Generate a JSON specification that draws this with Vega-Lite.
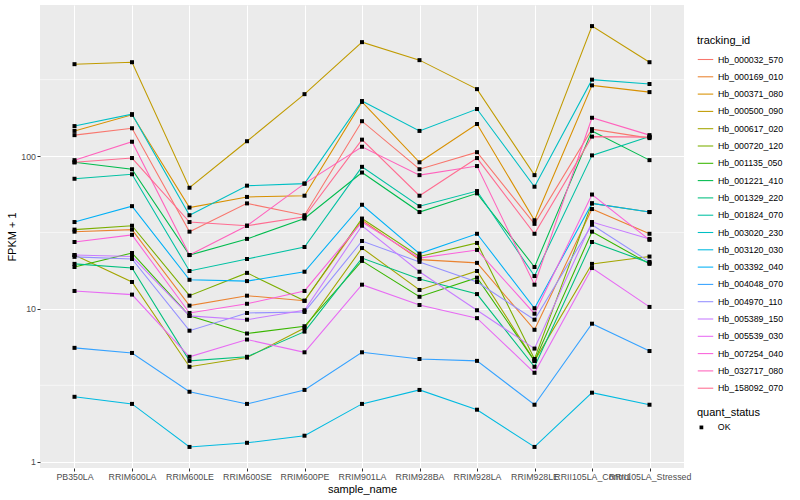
{
"$schema": "https://vega.github.io/schema/vega-lite/v6.json",
"width": 644,
"height": 463,
"autosize": {"type": "none"},
"padding": {"left": 40, "top": 5, "right": 116, "bottom": 32},
"background": "white",
"config": {
  "view": {"fill": "#EBEBEB", "stroke": null},
  "font": "Liberation Sans",
  "axis": {"gridColor": "white", "gridWidth": 1.07, "domain": false, "tickColor": "#333333", "tickSize": 3, "labelColor": "#4D4D4D", "labelFontSize": 8.8, "titleFontSize": 11, "titleFontWeight": "normal", "titleColor": "black", "labelFont": "Liberation Sans", "titleFont": "Liberation Sans"},
  "legend": {"titleFontSize": 11, "titleFontWeight": "normal", "titleColor": "black", "labelFontSize": 8.8, "labelColor": "black", "titleFont": "Liberation Sans", "labelFont": "Liberation Sans", "titlePadding": 5}
},
"datasets": {
  "minor": [{"fpkm": 3.1623}, {"fpkm": 31.623}, {"fpkm": 316.23}],
  "d": [
{"sample":"PB350LA","id":"Hb_000032_570","fpkm":137,"status":"OK"},
{"sample":"RRIM600LA","id":"Hb_000032_570","fpkm":152,"status":"OK"},
{"sample":"RRIM600LE","id":"Hb_000032_570","fpkm":32,"status":"OK"},
{"sample":"RRIM600SE","id":"Hb_000032_570","fpkm":49,"status":"OK"},
{"sample":"RRIM600PE","id":"Hb_000032_570","fpkm":41,"status":"OK"},
{"sample":"RRIM901LA","id":"Hb_000032_570","fpkm":169,"status":"OK"},
{"sample":"RRIM928BA","id":"Hb_000032_570","fpkm":82,"status":"OK"},
{"sample":"RRIM928LA","id":"Hb_000032_570","fpkm":106,"status":"OK"},
{"sample":"RRIM928LE","id":"Hb_000032_570","fpkm":36,"status":"OK"},
{"sample":"RRII105LA_Control","id":"Hb_000032_570","fpkm":150,"status":"OK"},
{"sample":"RRII105LA_Stressed","id":"Hb_000032_570","fpkm":131,"status":"OK"},
{"sample":"PB350LA","id":"Hb_000169_010","fpkm":32,"status":"OK"},
{"sample":"RRIM600LA","id":"Hb_000169_010","fpkm":33,"status":"OK"},
{"sample":"RRIM600LE","id":"Hb_000169_010","fpkm":10.5,"status":"OK"},
{"sample":"RRIM600SE","id":"Hb_000169_010","fpkm":12.2,"status":"OK"},
{"sample":"RRIM600PE","id":"Hb_000169_010","fpkm":11.3,"status":"OK"},
{"sample":"RRIM901LA","id":"Hb_000169_010","fpkm":38,"status":"OK"},
{"sample":"RRIM928BA","id":"Hb_000169_010","fpkm":21,"status":"OK"},
{"sample":"RRIM928LA","id":"Hb_000169_010","fpkm":20,"status":"OK"},
{"sample":"RRIM928LE","id":"Hb_000169_010","fpkm":7.3,"status":"OK"},
{"sample":"RRII105LA_Control","id":"Hb_000169_010","fpkm":45,"status":"OK"},
{"sample":"RRII105LA_Stressed","id":"Hb_000169_010","fpkm":31,"status":"OK"},
{"sample":"PB350LA","id":"Hb_000371_080","fpkm":146,"status":"OK"},
{"sample":"RRIM600LA","id":"Hb_000371_080","fpkm":186,"status":"OK"},
{"sample":"RRIM600LE","id":"Hb_000371_080","fpkm":46,"status":"OK"},
{"sample":"RRIM600SE","id":"Hb_000371_080","fpkm":54,"status":"OK"},
{"sample":"RRIM600PE","id":"Hb_000371_080","fpkm":55,"status":"OK"},
{"sample":"RRIM901LA","id":"Hb_000371_080","fpkm":226,"status":"OK"},
{"sample":"RRIM928BA","id":"Hb_000371_080","fpkm":91,"status":"OK"},
{"sample":"RRIM928LA","id":"Hb_000371_080","fpkm":162,"status":"OK"},
{"sample":"RRIM928LE","id":"Hb_000371_080","fpkm":38,"status":"OK"},
{"sample":"RRII105LA_Control","id":"Hb_000371_080","fpkm":290,"status":"OK"},
{"sample":"RRII105LA_Stressed","id":"Hb_000371_080","fpkm":262,"status":"OK"},
{"sample":"PB350LA","id":"Hb_000500_090","fpkm":399,"status":"OK"},
{"sample":"RRIM600LA","id":"Hb_000500_090","fpkm":411,"status":"OK"},
{"sample":"RRIM600LE","id":"Hb_000500_090","fpkm":62,"status":"OK"},
{"sample":"RRIM600SE","id":"Hb_000500_090","fpkm":125,"status":"OK"},
{"sample":"RRIM600PE","id":"Hb_000500_090","fpkm":254,"status":"OK"},
{"sample":"RRIM901LA","id":"Hb_000500_090","fpkm":556,"status":"OK"},
{"sample":"RRIM928BA","id":"Hb_000500_090","fpkm":424,"status":"OK"},
{"sample":"RRIM928LA","id":"Hb_000500_090","fpkm":274,"status":"OK"},
{"sample":"RRIM928LE","id":"Hb_000500_090","fpkm":75,"status":"OK"},
{"sample":"RRII105LA_Control","id":"Hb_000500_090","fpkm":708,"status":"OK"},
{"sample":"RRII105LA_Stressed","id":"Hb_000500_090","fpkm":411,"status":"OK"},
{"sample":"PB350LA","id":"Hb_000617_020","fpkm":22.5,"status":"OK"},
{"sample":"RRIM600LA","id":"Hb_000617_020","fpkm":15,"status":"OK"},
{"sample":"RRIM600LE","id":"Hb_000617_020","fpkm":4.18,"status":"OK"},
{"sample":"RRIM600SE","id":"Hb_000617_020","fpkm":4.8,"status":"OK"},
{"sample":"RRIM600PE","id":"Hb_000617_020","fpkm":7.5,"status":"OK"},
{"sample":"RRIM901LA","id":"Hb_000617_020","fpkm":25,"status":"OK"},
{"sample":"RRIM928BA","id":"Hb_000617_020","fpkm":13.3,"status":"OK"},
{"sample":"RRIM928LA","id":"Hb_000617_020","fpkm":17.7,"status":"OK"},
{"sample":"RRIM928LE","id":"Hb_000617_020","fpkm":4.57,"status":"OK"},
{"sample":"RRII105LA_Control","id":"Hb_000617_020","fpkm":19.7,"status":"OK"},
{"sample":"RRII105LA_Stressed","id":"Hb_000617_020","fpkm":22,"status":"OK"},
{"sample":"PB350LA","id":"Hb_000720_120","fpkm":33,"status":"OK"},
{"sample":"RRIM600LA","id":"Hb_000720_120","fpkm":35,"status":"OK"},
{"sample":"RRIM600LE","id":"Hb_000720_120","fpkm":12.2,"status":"OK"},
{"sample":"RRIM600SE","id":"Hb_000720_120","fpkm":17.2,"status":"OK"},
{"sample":"RRIM600PE","id":"Hb_000720_120","fpkm":11.3,"status":"OK"},
{"sample":"RRIM901LA","id":"Hb_000720_120","fpkm":39,"status":"OK"},
{"sample":"RRIM928BA","id":"Hb_000720_120","fpkm":22,"status":"OK"},
{"sample":"RRIM928LA","id":"Hb_000720_120","fpkm":27,"status":"OK"},
{"sample":"RRIM928LE","id":"Hb_000720_120","fpkm":4.7,"status":"OK"},
{"sample":"RRII105LA_Control","id":"Hb_000720_120","fpkm":49,"status":"OK"},
{"sample":"RRII105LA_Stressed","id":"Hb_000720_120","fpkm":43,"status":"OK"},
{"sample":"PB350LA","id":"Hb_001135_050","fpkm":18.8,"status":"OK"},
{"sample":"RRIM600LA","id":"Hb_001135_050","fpkm":23.2,"status":"OK"},
{"sample":"RRIM600LE","id":"Hb_001135_050","fpkm":9.0,"status":"OK"},
{"sample":"RRIM600SE","id":"Hb_001135_050","fpkm":6.9,"status":"OK"},
{"sample":"RRIM600PE","id":"Hb_001135_050","fpkm":7.7,"status":"OK"},
{"sample":"RRIM901LA","id":"Hb_001135_050","fpkm":20.6,"status":"OK"},
{"sample":"RRIM928BA","id":"Hb_001135_050","fpkm":12,"status":"OK"},
{"sample":"RRIM928LA","id":"Hb_001135_050","fpkm":16,"status":"OK"},
{"sample":"RRIM928LE","id":"Hb_001135_050","fpkm":4.57,"status":"OK"},
{"sample":"RRII105LA_Control","id":"Hb_001135_050","fpkm":32,"status":"OK"},
{"sample":"RRII105LA_Stressed","id":"Hb_001135_050","fpkm":19.7,"status":"OK"},
{"sample":"PB350LA","id":"Hb_001221_410","fpkm":91,"status":"OK"},
{"sample":"RRIM600LA","id":"Hb_001221_410","fpkm":82,"status":"OK"},
{"sample":"RRIM600LE","id":"Hb_001221_410","fpkm":22.5,"status":"OK"},
{"sample":"RRIM600SE","id":"Hb_001221_410","fpkm":28.7,"status":"OK"},
{"sample":"RRIM600PE","id":"Hb_001221_410","fpkm":39,"status":"OK"},
{"sample":"RRIM901LA","id":"Hb_001221_410","fpkm":78,"status":"OK"},
{"sample":"RRIM928BA","id":"Hb_001221_410","fpkm":43,"status":"OK"},
{"sample":"RRIM928LA","id":"Hb_001221_410","fpkm":57,"status":"OK"},
{"sample":"RRIM928LE","id":"Hb_001221_410","fpkm":18.8,"status":"OK"},
{"sample":"RRII105LA_Control","id":"Hb_001221_410","fpkm":146,"status":"OK"},
{"sample":"RRII105LA_Stressed","id":"Hb_001221_410","fpkm":94,"status":"OK"},
{"sample":"PB350LA","id":"Hb_001329_220","fpkm":19.7,"status":"OK"},
{"sample":"RRIM600LA","id":"Hb_001329_220","fpkm":18.5,"status":"OK"},
{"sample":"RRIM600LE","id":"Hb_001329_220","fpkm":4.57,"status":"OK"},
{"sample":"RRIM600SE","id":"Hb_001329_220","fpkm":4.86,"status":"OK"},
{"sample":"RRIM600PE","id":"Hb_001329_220","fpkm":7.1,"status":"OK"},
{"sample":"RRIM901LA","id":"Hb_001329_220","fpkm":21.5,"status":"OK"},
{"sample":"RRIM928BA","id":"Hb_001329_220","fpkm":15.7,"status":"OK"},
{"sample":"RRIM928LA","id":"Hb_001329_220","fpkm":12.5,"status":"OK"},
{"sample":"RRIM928LE","id":"Hb_001329_220","fpkm":4.18,"status":"OK"},
{"sample":"RRII105LA_Control","id":"Hb_001329_220","fpkm":27.4,"status":"OK"},
{"sample":"RRII105LA_Stressed","id":"Hb_001329_220","fpkm":20,"status":"OK"},
{"sample":"PB350LA","id":"Hb_001824_070","fpkm":71,"status":"OK"},
{"sample":"RRIM600LA","id":"Hb_001824_070","fpkm":76,"status":"OK"},
{"sample":"RRIM600LE","id":"Hb_001824_070","fpkm":17.7,"status":"OK"},
{"sample":"RRIM600SE","id":"Hb_001824_070","fpkm":21.2,"status":"OK"},
{"sample":"RRIM600PE","id":"Hb_001824_070","fpkm":25.4,"status":"OK"},
{"sample":"RRIM901LA","id":"Hb_001824_070","fpkm":85,"status":"OK"},
{"sample":"RRIM928BA","id":"Hb_001824_070","fpkm":47,"status":"OK"},
{"sample":"RRIM928LA","id":"Hb_001824_070","fpkm":59,"status":"OK"},
{"sample":"RRIM928LE","id":"Hb_001824_070","fpkm":16.4,"status":"OK"},
{"sample":"RRII105LA_Control","id":"Hb_001824_070","fpkm":101,"status":"OK"},
{"sample":"RRII105LA_Stressed","id":"Hb_001824_070","fpkm":134,"status":"OK"},
{"sample":"PB350LA","id":"Hb_003020_230","fpkm":157,"status":"OK"},
{"sample":"RRIM600LA","id":"Hb_003020_230","fpkm":188,"status":"OK"},
{"sample":"RRIM600LE","id":"Hb_003020_230","fpkm":41,"status":"OK"},
{"sample":"RRIM600SE","id":"Hb_003020_230","fpkm":64,"status":"OK"},
{"sample":"RRIM600PE","id":"Hb_003020_230","fpkm":66,"status":"OK"},
{"sample":"RRIM901LA","id":"Hb_003020_230","fpkm":229,"status":"OK"},
{"sample":"RRIM928BA","id":"Hb_003020_230","fpkm":146,"status":"OK"},
{"sample":"RRIM928LA","id":"Hb_003020_230","fpkm":203,"status":"OK"},
{"sample":"RRIM928LE","id":"Hb_003020_230","fpkm":63,"status":"OK"},
{"sample":"RRII105LA_Control","id":"Hb_003020_230","fpkm":316,"status":"OK"},
{"sample":"RRII105LA_Stressed","id":"Hb_003020_230","fpkm":296,"status":"OK"},
{"sample":"PB350LA","id":"Hb_003120_030","fpkm":2.66,"status":"OK"},
{"sample":"RRIM600LA","id":"Hb_003120_030","fpkm":2.39,"status":"OK"},
{"sample":"RRIM600LE","id":"Hb_003120_030","fpkm":1.25,"status":"OK"},
{"sample":"RRIM600SE","id":"Hb_003120_030","fpkm":1.33,"status":"OK"},
{"sample":"RRIM600PE","id":"Hb_003120_030","fpkm":1.48,"status":"OK"},
{"sample":"RRIM901LA","id":"Hb_003120_030","fpkm":2.39,"status":"OK"},
{"sample":"RRIM928BA","id":"Hb_003120_030","fpkm":2.95,"status":"OK"},
{"sample":"RRIM928LA","id":"Hb_003120_030","fpkm":2.19,"status":"OK"},
{"sample":"RRIM928LE","id":"Hb_003120_030","fpkm":1.25,"status":"OK"},
{"sample":"RRII105LA_Control","id":"Hb_003120_030","fpkm":2.83,"status":"OK"},
{"sample":"RRII105LA_Stressed","id":"Hb_003120_030","fpkm":2.36,"status":"OK"},
{"sample":"PB350LA","id":"Hb_003392_040","fpkm":37,"status":"OK"},
{"sample":"RRIM600LA","id":"Hb_003392_040","fpkm":47,"status":"OK"},
{"sample":"RRIM600LE","id":"Hb_003392_040","fpkm":15.5,"status":"OK"},
{"sample":"RRIM600SE","id":"Hb_003392_040","fpkm":15.2,"status":"OK"},
{"sample":"RRIM600PE","id":"Hb_003392_040","fpkm":17.5,"status":"OK"},
{"sample":"RRIM901LA","id":"Hb_003392_040","fpkm":48,"status":"OK"},
{"sample":"RRIM928BA","id":"Hb_003392_040","fpkm":23,"status":"OK"},
{"sample":"RRIM928LA","id":"Hb_003392_040","fpkm":31,"status":"OK"},
{"sample":"RRIM928LE","id":"Hb_003392_040","fpkm":10.1,"status":"OK"},
{"sample":"RRII105LA_Control","id":"Hb_003392_040","fpkm":49,"status":"OK"},
{"sample":"RRII105LA_Stressed","id":"Hb_003392_040","fpkm":43,"status":"OK"},
{"sample":"PB350LA","id":"Hb_004048_070","fpkm":5.56,"status":"OK"},
{"sample":"RRIM600LA","id":"Hb_004048_070","fpkm":5.15,"status":"OK"},
{"sample":"RRIM600LE","id":"Hb_004048_070","fpkm":2.87,"status":"OK"},
{"sample":"RRIM600SE","id":"Hb_004048_070","fpkm":2.39,"status":"OK"},
{"sample":"RRIM600PE","id":"Hb_004048_070","fpkm":2.95,"status":"OK"},
{"sample":"RRIM901LA","id":"Hb_004048_070","fpkm":5.2,"status":"OK"},
{"sample":"RRIM928BA","id":"Hb_004048_070","fpkm":4.7,"status":"OK"},
{"sample":"RRIM928LA","id":"Hb_004048_070","fpkm":4.57,"status":"OK"},
{"sample":"RRIM928LE","id":"Hb_004048_070","fpkm":2.36,"status":"OK"},
{"sample":"RRII105LA_Control","id":"Hb_004048_070","fpkm":8.0,"status":"OK"},
{"sample":"RRII105LA_Stressed","id":"Hb_004048_070","fpkm":5.3,"status":"OK"},
{"sample":"PB350LA","id":"Hb_004970_110","fpkm":21.9,"status":"OK"},
{"sample":"RRIM600LA","id":"Hb_004970_110","fpkm":21.2,"status":"OK"},
{"sample":"RRIM600LE","id":"Hb_004970_110","fpkm":7.2,"status":"OK"},
{"sample":"RRIM600SE","id":"Hb_004970_110","fpkm":9.4,"status":"OK"},
{"sample":"RRIM600PE","id":"Hb_004970_110","fpkm":9.55,"status":"OK"},
{"sample":"RRIM901LA","id":"Hb_004970_110","fpkm":27.8,"status":"OK"},
{"sample":"RRIM928BA","id":"Hb_004970_110","fpkm":20.3,"status":"OK"},
{"sample":"RRIM928LA","id":"Hb_004970_110","fpkm":15,"status":"OK"},
{"sample":"RRIM928LE","id":"Hb_004970_110","fpkm":8.5,"status":"OK"},
{"sample":"RRII105LA_Control","id":"Hb_004970_110","fpkm":35.5,"status":"OK"},
{"sample":"RRII105LA_Stressed","id":"Hb_004970_110","fpkm":20.3,"status":"OK"},
{"sample":"PB350LA","id":"Hb_005389_150","fpkm":22.5,"status":"OK"},
{"sample":"RRIM600LA","id":"Hb_005389_150","fpkm":22,"status":"OK"},
{"sample":"RRIM600LE","id":"Hb_005389_150","fpkm":9.0,"status":"OK"},
{"sample":"RRIM600SE","id":"Hb_005389_150","fpkm":8.5,"status":"OK"},
{"sample":"RRIM600PE","id":"Hb_005389_150","fpkm":9.8,"status":"OK"},
{"sample":"RRIM901LA","id":"Hb_005389_150","fpkm":35,"status":"OK"},
{"sample":"RRIM928BA","id":"Hb_005389_150","fpkm":17.5,"status":"OK"},
{"sample":"RRIM928LA","id":"Hb_005389_150","fpkm":9.8,"status":"OK"},
{"sample":"RRIM928LE","id":"Hb_005389_150","fpkm":5.5,"status":"OK"},
{"sample":"RRII105LA_Control","id":"Hb_005389_150","fpkm":37,"status":"OK"},
{"sample":"RRII105LA_Stressed","id":"Hb_005389_150","fpkm":28.7,"status":"OK"},
{"sample":"PB350LA","id":"Hb_005539_030","fpkm":13.1,"status":"OK"},
{"sample":"RRIM600LA","id":"Hb_005539_030","fpkm":12.4,"status":"OK"},
{"sample":"RRIM600LE","id":"Hb_005539_030","fpkm":4.86,"status":"OK"},
{"sample":"RRIM600SE","id":"Hb_005539_030","fpkm":6.3,"status":"OK"},
{"sample":"RRIM600PE","id":"Hb_005539_030","fpkm":5.2,"status":"OK"},
{"sample":"RRIM901LA","id":"Hb_005539_030","fpkm":14.4,"status":"OK"},
{"sample":"RRIM928BA","id":"Hb_005539_030","fpkm":10.6,"status":"OK"},
{"sample":"RRIM928LA","id":"Hb_005539_030","fpkm":8.7,"status":"OK"},
{"sample":"RRIM928LE","id":"Hb_005539_030","fpkm":3.82,"status":"OK"},
{"sample":"RRII105LA_Control","id":"Hb_005539_030","fpkm":18.5,"status":"OK"},
{"sample":"RRII105LA_Stressed","id":"Hb_005539_030","fpkm":10.3,"status":"OK"},
{"sample":"PB350LA","id":"Hb_007254_040","fpkm":27.4,"status":"OK"},
{"sample":"RRIM600LA","id":"Hb_007254_040","fpkm":30.5,"status":"OK"},
{"sample":"RRIM600LE","id":"Hb_007254_040","fpkm":9.4,"status":"OK"},
{"sample":"RRIM600SE","id":"Hb_007254_040","fpkm":10.8,"status":"OK"},
{"sample":"RRIM600PE","id":"Hb_007254_040","fpkm":13.1,"status":"OK"},
{"sample":"RRIM901LA","id":"Hb_007254_040","fpkm":37,"status":"OK"},
{"sample":"RRIM928BA","id":"Hb_007254_040","fpkm":21.5,"status":"OK"},
{"sample":"RRIM928LA","id":"Hb_007254_040","fpkm":24.3,"status":"OK"},
{"sample":"RRIM928LE","id":"Hb_007254_040","fpkm":9.3,"status":"OK"},
{"sample":"RRII105LA_Control","id":"Hb_007254_040","fpkm":56,"status":"OK"},
{"sample":"RRII105LA_Stressed","id":"Hb_007254_040","fpkm":28.3,"status":"OK"},
{"sample":"PB350LA","id":"Hb_032717_080","fpkm":94,"status":"OK"},
{"sample":"RRIM600LA","id":"Hb_032717_080","fpkm":124,"status":"OK"},
{"sample":"RRIM600LE","id":"Hb_032717_080","fpkm":22.5,"status":"OK"},
{"sample":"RRIM600SE","id":"Hb_032717_080","fpkm":35,"status":"OK"},
{"sample":"RRIM600PE","id":"Hb_032717_080","fpkm":66,"status":"OK"},
{"sample":"RRIM901LA","id":"Hb_032717_080","fpkm":115,"status":"OK"},
{"sample":"RRIM928BA","id":"Hb_032717_080","fpkm":75,"status":"OK"},
{"sample":"RRIM928LA","id":"Hb_032717_080","fpkm":86,"status":"OK"},
{"sample":"RRIM928LE","id":"Hb_032717_080","fpkm":14.4,"status":"OK"},
{"sample":"RRII105LA_Control","id":"Hb_032717_080","fpkm":178,"status":"OK"},
{"sample":"RRII105LA_Stressed","id":"Hb_032717_080","fpkm":137,"status":"OK"},
{"sample":"PB350LA","id":"Hb_158092_070","fpkm":91,"status":"OK"},
{"sample":"RRIM600LA","id":"Hb_158092_070","fpkm":97,"status":"OK"},
{"sample":"RRIM600LE","id":"Hb_158092_070","fpkm":37,"status":"OK"},
{"sample":"RRIM600SE","id":"Hb_158092_070","fpkm":35,"status":"OK"},
{"sample":"RRIM600PE","id":"Hb_158092_070","fpkm":40,"status":"OK"},
{"sample":"RRIM901LA","id":"Hb_158092_070","fpkm":128,"status":"OK"},
{"sample":"RRIM928BA","id":"Hb_158092_070","fpkm":55,"status":"OK"},
{"sample":"RRIM928LA","id":"Hb_158092_070","fpkm":97,"status":"OK"},
{"sample":"RRIM928LE","id":"Hb_158092_070","fpkm":31,"status":"OK"},
{"sample":"RRII105LA_Control","id":"Hb_158092_070","fpkm":134,"status":"OK"},
{"sample":"RRII105LA_Stressed","id":"Hb_158092_070","fpkm":133,"status":"OK"}
  ]
},
"layer": [
  {
    "data": {"name": "minor"},
    "mark": {"type": "rule", "color": "white", "strokeWidth": 0.55},
    "encoding": {
      "y": {"field": "fpkm", "type": "quantitative", "title": "FPKM + 1",
        "scale": {"type": "log", "domain": [0.91, 973], "nice": false, "zero": false},
        "axis": {"values": [1, 10, 100], "format": "d", "grid": true, "labelPadding": 1.5, "titlePadding": 3}}
    }
  },
  {
    "data": {"name": "d"},
    "mark": {"type": "line", "strokeWidth": 1.07},
    "encoding": {
      "x": {"field": "sample", "type": "nominal", "title": "sample_name",
        "scale": {"type": "point", "padding": 0.6, "domain": ["PB350LA","RRIM600LA","RRIM600LE","RRIM600SE","RRIM600PE","RRIM901LA","RRIM928BA","RRIM928LA","RRIM928LE","RRII105LA_Control","RRII105LA_Stressed"]},
        "axis": {"labelAngle": 0, "labelOverlap": false, "grid": true, "labelPadding": 1.5, "titlePadding": 2}},
      "y": {"field": "fpkm", "type": "quantitative", "title": "FPKM + 1",
        "scale": {"type": "log", "domain": [0.91, 973], "nice": false, "zero": false},
        "axis": {"values": [1, 10, 100], "format": "d", "grid": true, "labelPadding": 1.5, "titlePadding": 3}},
      "color": {"field": "id", "type": "nominal", "title": "tracking_id",
        "scale": {"domain": ["Hb_000032_570","Hb_000169_010","Hb_000371_080","Hb_000500_090","Hb_000617_020","Hb_000720_120","Hb_001135_050","Hb_001221_410","Hb_001329_220","Hb_001824_070","Hb_003020_230","Hb_003120_030","Hb_003392_040","Hb_004048_070","Hb_004970_110","Hb_005389_150","Hb_005539_030","Hb_007254_040","Hb_032717_080","Hb_158092_070"],
          "range": ["#F8766D","#EA8331","#D89000","#C09B00","#A3A500","#7CAE00","#39B600","#00BB4E","#00BF7D","#00C1A3","#00BFC4","#00BAE0","#00B0F6","#35A2FF","#9590FF","#C77CFF","#E76BF3","#FA62DB","#FF62BC","#FF6C91"]},
        "legend": {"orient": "none", "legendX": 657, "legendY": 30, "symbolType": "stroke", "symbolStrokeWidth": 1.07, "symbolSize": 240, "rowPadding": 3.3}}
    }
  },
  {
    "data": {"name": "d"},
    "mark": {"type": "point", "filled": true, "color": "black", "opacity": 1, "size": 16},
    "encoding": {
      "x": {"field": "sample", "type": "nominal", "title": "sample_name",
        "scale": {"type": "point", "padding": 0.6, "domain": ["PB350LA","RRIM600LA","RRIM600LE","RRIM600SE","RRIM600PE","RRIM901LA","RRIM928BA","RRIM928LA","RRIM928LE","RRII105LA_Control","RRII105LA_Stressed"]}},
      "y": {"field": "fpkm", "type": "quantitative", "title": "FPKM + 1",
        "scale": {"type": "log", "domain": [0.91, 973], "nice": false, "zero": false}},
      "shape": {"field": "status", "type": "nominal", "title": "quant_status",
        "scale": {"range": ["square"]},
        "legend": {"orient": "none", "legendX": 657, "legendY": 402, "symbolSize": 14, "labelOffset": 12, "symbolFillColor": "black", "symbolStrokeColor": "black"}}
    }
  }
]
}
